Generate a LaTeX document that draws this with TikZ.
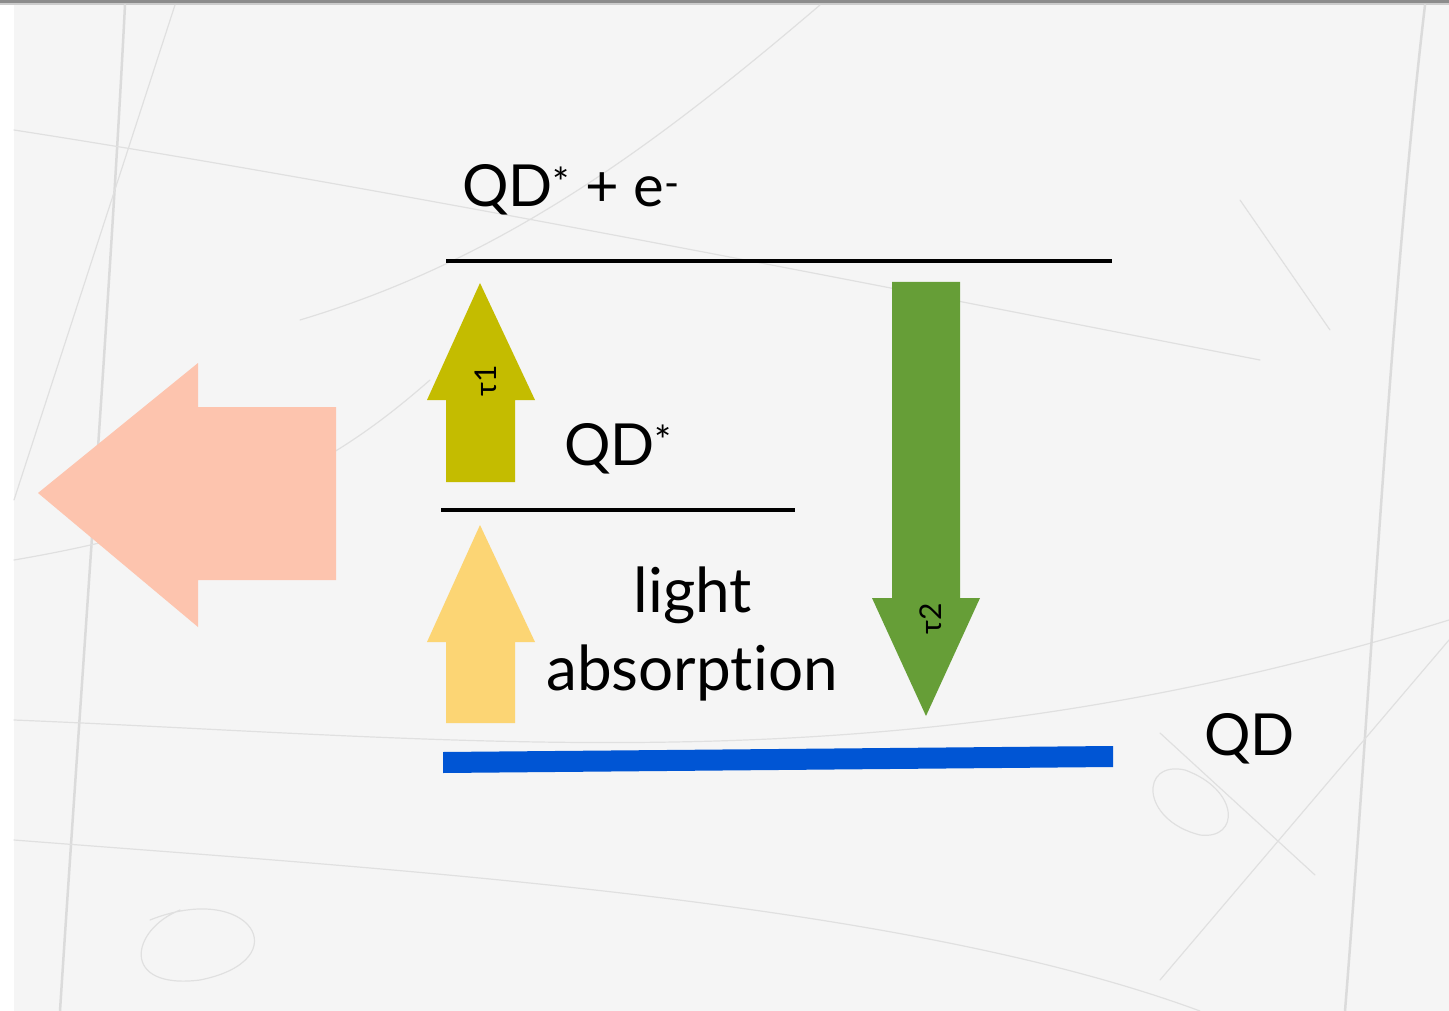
\documentclass[tikz,border=0pt]{standalone}
\usepackage{fontspec}
\setmainfont{Lato}[Ligatures={NoCommon,NoRare,NoDiscretionary}]
\begin{document}
\begin{tikzpicture}[x=1pt,y=-1pt,
  lvl/.style={line width=4pt},
  bgtrack/.style={draw=black!14,line width=2.5pt,line cap=round},
  bgthin/.style={draw=black!12,line width=1.2pt,line cap=round},
  lbl/.style={inner sep=0pt,anchor=base west,text=black},
  tau/.style={inner sep=0pt,rotate=90,font=\fontsize{30}{30}\selectfont}]
\definecolor{olive}{HTML}{C4BC00}
\definecolor{lightyel}{HTML}{FCD574}
\definecolor{grn}{HTML}{669E37}
\definecolor{blu}{HTML}{0055D4}
\definecolor{salmon}{HTML}{FDC4AE}
\useasboundingbox (0,0) rectangle (1449,1011);
% background
\fill[white] (0,0) rectangle (1449,1011);
\fill[black!4] (14,4) rectangle (1449,1011);
\fill[black!45] (0,0) rectangle (1449,3);
\fill[black!20] (0,3) rectangle (1449,5);
% faint background tracks
\draw[bgtrack] (125,5) .. controls (110,300) and (80,700) .. (60,1011);
\draw[bgthin] (175,5) -- (14,500);
\draw[bgthin] (14,130) .. controls (400,190) and (900,290) .. (1260,360);
\draw[bgthin] (14,720) .. controls (500,740) and (900,790) .. (1449,620);
\draw[bgthin] (14,840) .. controls (400,870) and (900,900) .. (1200,1011);
\draw[bgtrack] (1425,5) .. controls (1390,300) and (1370,700) .. (1345,1011);
\draw[bgthin] (1160,980) -- (1449,640);
\draw[bgthin] (820,5) .. controls (650,150) and (500,260) .. (300,320);
\draw[bgthin] (14,560) .. controls (250,520) and (350,450) .. (430,380);
\draw[bgthin] (1160,733) -- (1315,875);
\draw[bgthin] (1240,200) -- (1330,330);
\draw[bgthin] (150,920) .. controls (250,880) and (300,960) .. (200,980) .. controls (120,990) and (130,930) .. (180,910);
\draw[bgthin] (1185,770) .. controls (1140,760) and (1140,820) .. (1200,835) .. controls (1240,840) and (1240,790) .. (1185,770);
% level lines
\coordinate (t1) at (446,261); \coordinate (t2) at (1112,261);
\draw[lvl] (t1) -- (t2);
\coordinate (m1) at (441,510); \coordinate (m2) at (795,510);
\draw[lvl] (m1) -- (m2);
\fill[blu] (443,752) -- (1113,746) -- (1113,767) -- (443,773) -- cycle;
% arrows
\fill[olive] (480,283) -- (535,400) -- (515,400) -- (515,482) -- (446,482) -- (446,400) -- (427,400) -- cycle;
\fill[lightyel] (480,525) -- (535,642) -- (515,642) -- (515,723) -- (446,723) -- (446,642) -- (427,642) -- cycle;
\fill[grn] (892,282) -- (960,282) -- (960,598) -- (980,598) -- (926,716) -- (872,598) -- (892,598) -- cycle;
\fill[salmon] (38,493) -- (198,363) -- (198,407) -- (336,407) -- (336,580) -- (198,580) -- (198,627) -- cycle;
% labels
\node[tau] (tau1) at (486,381) {τ1};
\node[tau] (tau2) at (931,619) {τ2};
\node[lbl,font=\fontsize{58}{58}\selectfont] (qde) at (462,207) {QD\textsuperscript{*} + e\textsuperscript{-}};
\node[lbl,font=\fontsize{58}{58}\selectfont] (qds) at (564,465) {QD\textsuperscript{*}};
\node[lbl,font=\fontsize{58}{58}\selectfont] (qd) at (1204,755) {QD};
\node[inner sep=0pt,font=\fontsize{62}{62}\selectfont,anchor=base] (li) at (693,612) {light};
\node[inner sep=0pt,font=\fontsize{62}{62}\selectfont,anchor=base] (ab) at (692,690) {absorption};
\end{tikzpicture}
\end{document}
